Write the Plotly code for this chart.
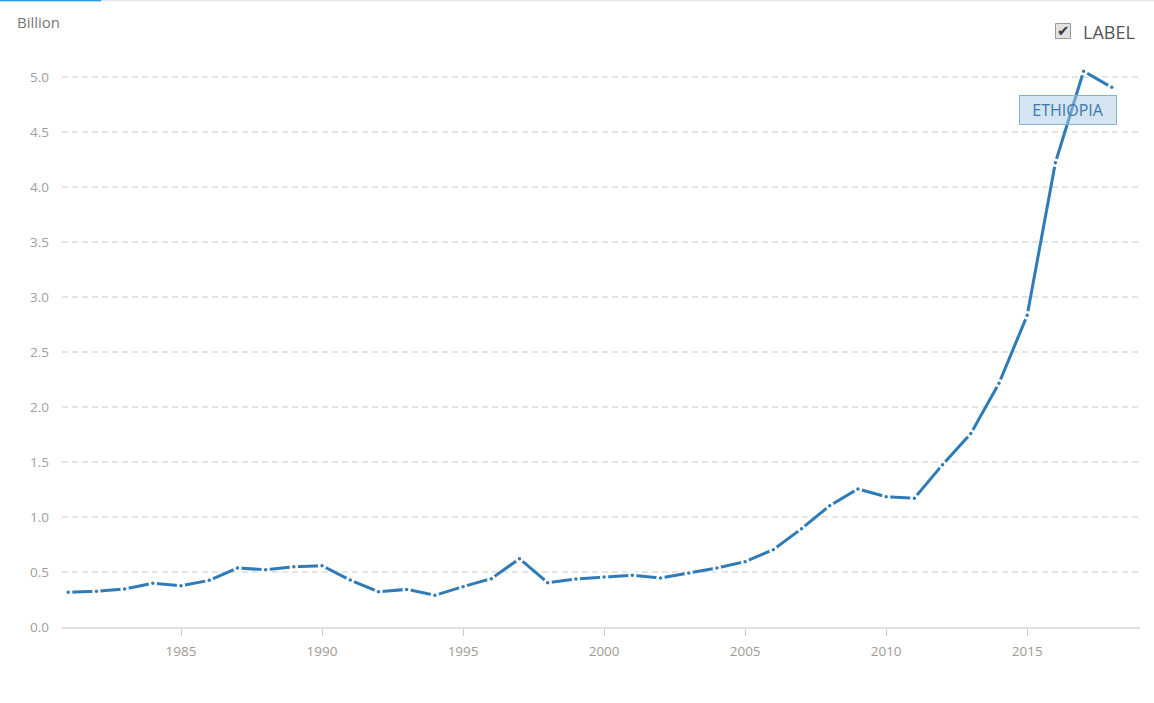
import plotly.graph_objects as go

years = list(range(1981, 2019))
values = [0.315, 0.324, 0.345, 0.397, 0.376, 0.424, 0.536, 0.521, 0.548, 0.557,
          0.427, 0.321, 0.342, 0.288, 0.367, 0.439, 0.621, 0.403, 0.436, 0.455,
          0.470, 0.445, 0.491, 0.536, 0.594, 0.703, 0.894, 1.103, 1.255, 1.185,
          1.170, 1.476, 1.758, 2.215, 2.833, 4.221, 5.052, 4.906]
x_ticks = [1985, 1990, 1995, 2000, 2005, 2010, 2015]
y_ticks = [0.0, 0.5, 1.0, 1.5, 2.0, 2.5, 3.0, 3.5, 4.0, 4.5, 5.0]
series_name = "ETHIOPIA"

line_color = "#2e7bb8"
font = "Open Sans, Noto Sans, sans-serif"

fig = go.Figure()
fig.add_trace(go.Scatter(
    x=years, y=values, mode="lines+markers", name=series_name,
    line=dict(color=line_color, width=3),
    marker=dict(size=6, color=line_color, line=dict(color="white", width=2.5)),
    showlegend=False,
))

# plot area is 62..1140 px wide, 55..627 px high
W = 1078.0
H = 572.0
def px(x):
    return (x - 62) / W
def py(y):
    return (627 - y) / H

shapes = [
    # top strip
    dict(type="line", xref="paper", yref="paper", x0=px(0), x1=px(1154), y0=py(0.5), y1=py(0.5),
         line=dict(color="#e4e8ec", width=1.5)),
    dict(type="line", xref="paper", yref="paper", x0=px(0), x1=px(101), y0=py(0.5), y1=py(0.5),
         line=dict(color="#1e9bf0", width=1.5)),
    # checkbox
    dict(type="rect", xref="paper", yref="paper", x0=px(1055.5), x1=px(1070.5), y0=py(38.5), y1=py(23.5),
         line=dict(color="#9a9a9a", width=1), fillcolor="#e2e2e2"),
]

annotations = [
    dict(text="Billion", xref="paper", yref="paper", x=px(15), y=py(22), xanchor="left", yanchor="middle",
         showarrow=False, font=dict(family=font, size=15, color="#777777")),
    dict(text="✔", xref="paper", yref="paper", x=px(1063), y=py(31), xanchor="center", yanchor="middle",
         showarrow=False, font=dict(family="DejaVu Sans", size=15, color="#3a3a3a")),
    dict(text="LABEL", xref="paper", yref="paper", x=px(1081), y=py(32), xanchor="left", yanchor="middle",
         showarrow=False, font=dict(family=font, size=18, color="#555555")),
    dict(text=series_name, x=2016.45, y=4.70, xanchor="center", yanchor="middle", showarrow=False,
         font=dict(family=font, size=16, color="#3b78b0"),
         bgcolor="rgba(170,202,228,0.5)", bordercolor="#86b0d6", borderwidth=1, borderpad=1,
         width=94, height=26),
]

fig.update_layout(
    width=1154, height=703,
    margin=dict(l=62, r=14, t=55, b=76),
    paper_bgcolor="white", plot_bgcolor="white",
    font=dict(family=font, color="#9a9a9a"),
    shapes=shapes, annotations=annotations,
    hovermode="x",
)
fig.update_xaxes(
    range=[1980.78, 2019.0], tickvals=x_ticks, showgrid=False, zeroline=False,
    showline=True, linecolor="#dde1e6", linewidth=2,
    ticks="outside", ticklen=7, tickcolor="#cccccc", tickwidth=1,
    ticklabelstandoff=4,
    tickfont=dict(size=13.5, color="#a09a94"),
)
fig.update_yaxes(
    range=[0, 5.2], tickvals=y_ticks, tickformat=".1f",
    showgrid=True, gridcolor="#e4e4e4", griddash="6px,4px", gridwidth=1.5,
    zeroline=False, showline=False,
    ticks="", ticklabelstandoff=12,
    tickfont=dict(size=13.5, color="#a0a0a0"),
)

# page body has a default 8px margin; drop it so the figure sits at the window corner
fig.write_html("out.html", config={"displayModeBar": False},
               post_script="document.body.style.margin='0';")
